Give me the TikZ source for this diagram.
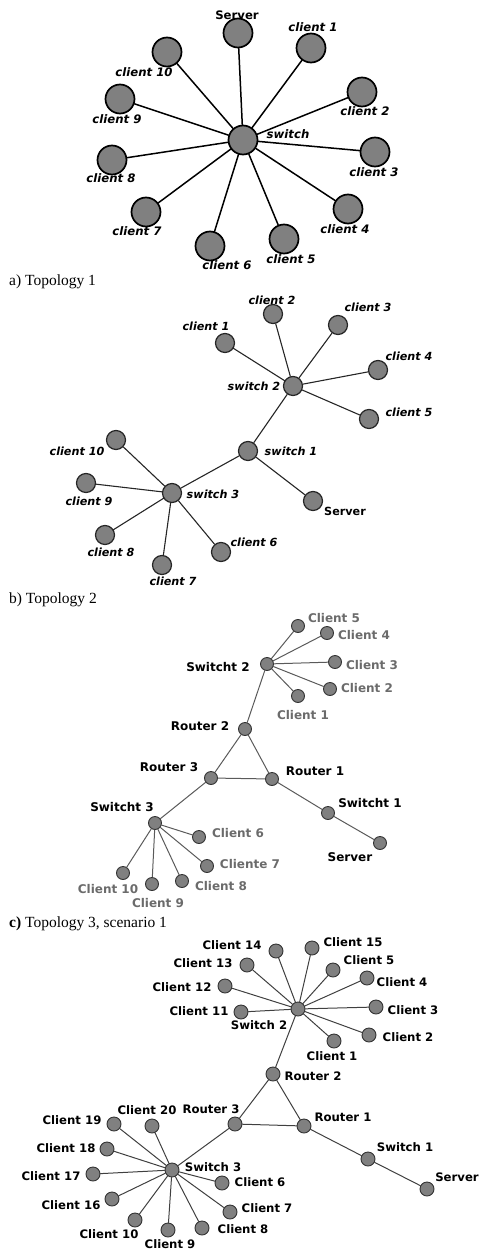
\documentclass[tikz,border=0pt]{standalone}
\usepackage{fontspec}
\setmainfont{Liberation Serif}
\newfontfamily\labfont{DejaVu Sans}
\definecolor{hostgray}{HTML}{808080}
\definecolor{labgray}{HTML}{6B6B6B}
\definecolor{linkgray}{HTML}{5A5A5A}
\tikzset{
  hostA/.style={circle,draw=black,line width=1.7pt,fill=hostgray,inner sep=0pt,minimum size=29pt},
  hostB/.style={circle,draw=black!85,line width=1.2pt,fill=hostgray,inner sep=0pt,minimum size=19pt},
  hostC/.style={circle,draw=black!80,line width=0.9pt,fill=hostgray,inner sep=0pt,minimum size=13pt},
  hostD/.style={circle,draw=black!80,line width=0.9pt,fill=hostgray,inner sep=0pt,minimum size=14pt},
  linkA/.style={line width=1.5pt},
  linkB/.style={line width=1.1pt,draw=black!85},
  linkC/.style={line width=1pt,draw=linkgray},
  linkD/.style={line width=1pt,draw=black!75},
  labA/.style={font=\labfont\bfseries\itshape\fontsize{11.7}{13}\selectfont,inner sep=0pt},
  labB/.style={font=\labfont\bfseries\itshape\fontsize{11.2}{13}\selectfont,inner sep=0pt},
  labC/.style={font=\labfont\bfseries\fontsize{12}{14}\selectfont,inner sep=0pt,text=labgray},
  labCk/.style={font=\labfont\bfseries\fontsize{12}{14}\selectfont,inner sep=0pt},
  labD/.style={font=\labfont\bfseries\fontsize{11.7}{13}\selectfont,inner sep=0pt},
  caption/.style={anchor=west,font=\fontsize{15.5}{17}\selectfont,inner sep=0pt}
}
\begin{document}
\begin{tikzpicture}[x=1pt,y=-1pt,line join=round,line cap=round]
\useasboundingbox (0,0) rectangle (485,1252);

% a) Topology 1
\node[hostA] (asw) at (243,140) {};
\foreach \n/\x/\y in {srv/238/33,c1/311/48,c2/362/92,c3/375/152,c4/348/209,c5/284/239,
    c6/210/246,c7/146/212,c8/112/160,c9/120/99,c10/167/52} {
  \node[hostA] (a\n) at (\x,\y) {};
  \draw[linkA] (asw) -- (a\n);
}
\foreach \n/\x/\y/\t in {srv/237/15/\upshape Server,c1/313/27/client 1,c2/365/111/client 2,
    c3/374/172/client 3,c4/345/229/client 4,c5/291/259/client 5,c6/227/265/client 6,
    c7/137/231/client 7,c8/111/178/client 8,c9/117/119/client 9,c10/144/72/client 10,
    sw/288/134/switch} {
  \node[labA] (la\n) at (\x,\y) {\t};
}
\node[caption] (capa) at (9,282) {a) Topology 1};

% b) Topology 2
\foreach \n/\x/\y in {sw2/293/386,sw1/248/451,sw3/172/493,c1/225/343,c2/273/314,
    c3/338/325,c4/378/370,c5/369/419,srv/313/501,c10/116/440,c9/86/483,c8/105/535,
    c7/162/565,c6/221/552} {
  \node[hostB] (b\n) at (\x,\y) {};
}
\foreach \a/\b in {sw2/c1,sw2/c2,sw2/c3,sw2/c4,sw2/c5,sw2/sw1,sw1/srv,sw1/sw3,
    sw3/c10,sw3/c9,sw3/c8,sw3/c7,sw3/c6} {
  \draw[linkB] (b\a) -- (b\b);
}
\foreach \n/\x/\y/\t in {sw2/254/386/switch 2,c1/206/326/client 1,c2/272/300/client 2,
    c3/368/307/client 3,c4/409/356/client 4,c5/409/412/client 5,sw1/291/451/switch 1,
    srv/345/511/\upshape Server,sw3/213/494/switch 3,c10/77/451/client 10,c9/89/501/client 9,
    c8/111/552/client 8,c7/173/581/client 7,c6/254/542/client 6} {
  \node[labB] (lb\n) at (\x,\y) {\t};
}
\node[caption] (capb) at (9,600) {b) Topology 2};

% c) Topology 3, scenario 1
\foreach \n/\x/\y in {sw2/267/664,c5/298/626,c4/327/633,c3/335/662,c2/330/689,
    c1/298/696,r2/245/729,r3/211/778,r1/272/779,sw1/328/813,srv/380/843,sw3/155/823,
    c6/199/837,c7/207/866,c8/182/881,c9/152/884,c10/123/873} {
  \node[hostC] (c\n) at (\x,\y) {};
}
\foreach \a/\b in {sw2/c5,sw2/c4,sw2/c3,sw2/c2,sw2/c1,sw2/r2,r2/r3,r2/r1,r3/r1,
    r1/sw1,sw1/srv,r3/sw3,sw3/c6,sw3/c7,sw3/c8,sw3/c9,sw3/c10} {
  \draw[linkC] (c\a) -- (c\b);
}
\foreach \n/\x/\y/\t in {sw2/218/667/Switcht 2,r2/200/726/Router 2,r3/169/767/Router 3,
    r1/315/771/Router 1,sw1/370/803/Switcht 1,srv/350/857/Server,sw3/122/807/Switcht 3} {
  \node[labCk] (lc\n) at (\x,\y) {\t};
}
\foreach \n/\x/\y/\t in {c5/334/618/Client 5,c4/364/635/Client 4,c3/372/665/Client 3,
    c2/367/688/Client 2,c1/303/715/Client 1,c6/238/833/Client 6,c7/250/864/Cliente 7,
    c8/221/886/Client 8,c9/158/903/Client 9,c10/108/889/Client 10} {
  \node[labC] (lc\n) at (\x,\y) {\t};
}
\node[caption] (capc) at (9,924) {\textbf{c)} Topology 3, scenario 1};

% d) Topology 3, scenario 2
\foreach \n/\x/\y in {sw2/298/1009,c14/276/951,c15/312/948,c13/247/965,c5/333/970,
    c4/367/978,c12/225/986,c11/241/1012,c3/376/1007,c2/369/1035,c1/334/1041,
    r2/273/1074,r3/235/1124,r1/304/1126,sw1/368/1159,srv/427/1189,sw3/172/1170,
    c20/152/1126,c19/114/1124,c18/107/1149,c17/93/1174,c16/112/1199,c10/135/1220,
    c9/168/1230,c8/202/1228,c7/230/1212,c6/222/1183} {
  \node[hostD] (d\n) at (\x,\y) {};
}
\foreach \a/\b in {sw2/c14,sw2/c15,sw2/c13,sw2/c5,sw2/c4,sw2/c12,sw2/c11,sw2/c3,
    sw2/c2,sw2/c1,sw2/r2,r2/r3,r2/r1,r3/r1,r1/sw1,sw1/srv,r3/sw3,sw3/c20,sw3/c19,
    sw3/c18,sw3/c17,sw3/c16,sw3/c10,sw3/c9,sw3/c8,sw3/c7,sw3/c6} {
  \draw[linkD] (d\a) -- (d\b);
}
\foreach \n/\x/\y/\t in {sw2/259/1025/Switch 2,c14/232/945/Client 14,
    c15/353/942/Client 15,c13/203/963/Client 13,c5/369/960/Client 5,
    c4/402/982/Client 4,c12/182/987/Client 12,c11/199/1011/Client 11,
    c3/413/1010/Client 3,c2/408/1037/Client 2,c1/332/1056/Client 1,
    r2/313/1076/Router 2,r3/211/1109/Router 3,r1/343/1117/Router 1,
    sw1/405/1147/Switch 1,srv/457/1177/Server,sw3/213/1167/Switch 3,
    c20/147/1110/Client 20,c19/72/1120/Client 19,c18/66/1148/Client 18,
    c17/51/1176/Client 17,c16/71/1205/Client 16,c10/109/1234/Client 10,
    c9/170/1244/Client 9,c8/243/1229/Client 8,c7/267/1208/Client 7,
    c6/260/1182/Client 6} {
  \node[labD] (ld\n) at (\x,\y) {\t};
}
\end{tikzpicture}
\end{document}
